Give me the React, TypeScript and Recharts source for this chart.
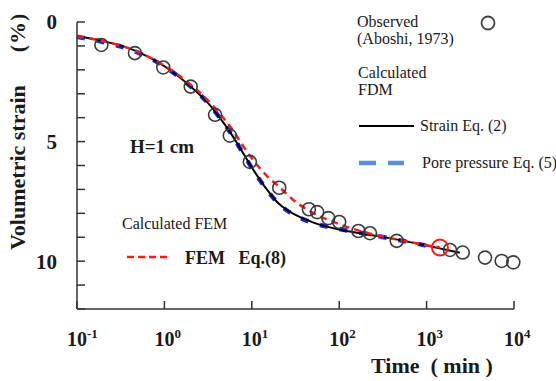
import React from 'react';
import { ComposedChart, Line, Scatter, XAxis, YAxis } from 'recharts';

// observed (Aboshi, 1973)
const obsTime = [0.19, 0.46, 0.97, 2.0, 3.8, 5.6, 9.5, 20.6, 45, 56, 75, 100, 166, 225, 455, 1850, 2590, 4660, 7230, 9820];
const obsStrain = [0.96, 1.3, 1.9, 2.7, 3.88, 4.75, 5.85, 6.93, 7.83, 7.95, 8.2, 8.36, 8.74, 8.83, 9.15, 9.53, 9.64, 9.85, 9.99, 10.05];

// FDM strain Eq. (2)
const strainTime = [0.1, 0.2, 0.5, 1, 2, 3, 4, 6, 8, 10, 15, 20, 25, 30, 50, 100, 200, 500, 1000, 2400];
const strainEq2 = [0.6, 0.8, 1.25, 1.85, 2.7, 3.3, 3.85, 4.75, 5.5, 6.08, 7.02, 7.57, 7.85, 8.02, 8.38, 8.68, 8.87, 9.12, 9.35, 9.65];

// FDM pore pressure Eq. (5)
const poreTime = [0.1, 0.2, 0.5, 1, 2, 3, 4, 6, 8, 10, 15, 20, 25, 30, 50, 100, 200, 500, 1100];
const poreEq5 = [0.62, 0.84, 1.28, 1.86, 2.7, 3.3, 3.85, 4.75, 5.52, 6.1, 7.03, 7.58, 7.87, 8.05, 8.4, 8.65, 8.85, 9.13, 9.38];

// FEM Eq. (8)
const femTime = [0.1, 0.2, 0.5, 1, 2, 3, 4, 6, 8, 10, 15, 20, 30, 50, 100, 200, 500, 1420];
const femEq8 = [0.6, 0.8, 1.25, 1.83, 2.62, 3.2, 3.7, 4.5, 5.2, 5.7, 6.45, 6.85, 7.45, 7.98, 8.45, 8.8, 9.12, 9.43];

const xTicks = [0.1, 1, 10, 100, 1000, 10000];
const yTicks = [0, 1, 2, 3, 4, 5, 6, 7, 8, 9, 10, 11, 12];
const yLabels = [0, 5, 10];

const zip = (ts: number[], vs: number[]) => ts.map((t, i) => ({ t, v: vs[i] }));

const observed = zip(obsTime, obsStrain);
const strain = zip(strainTime, strainEq2);
const pore = zip(poreTime, poreEq5);
const fem = zip(femTime, femEq8);
const femEnd = [fem[fem.length - 1]];

const SERIF = '"Liberation Serif", "Times New Roman", "Noto Sans CJK SC", serif';

function LogTick({ x, y, payload }: any) {
  const exp = Math.round(Math.log10(payload.value));
  return (
    <g fontFamily={SERIF} fontWeight="bold" fill="#1a1a1a">
      <text x={x} y={y + 37} textAnchor="middle" fontSize={20}>
        10
      </text>
      <text x={x + 10} y={y + 29} textAnchor="start" fontSize={13}>
        {exp}
      </text>
    </g>
  );
}

const openCircle = (props: any) => (
  <circle cx={props.cx} cy={props.cy} r={6.5} fill="none" stroke="#3a3a3a" strokeWidth={1.6} />
);
const redCircle = (props: any) => (
  <circle cx={props.cx} cy={props.cy} r={8} fill="none" stroke="#ff1a1a" strokeWidth={2} />
);

export default function App() {
  return (
    <div style={{ position: 'absolute', left: 0, top: 0, width: 556, height: 381, background: '#fff' }}>
      <ComposedChart width={556} height={381} margin={{ top: 22, right: 42, left: 0, bottom: 0 }}>
        <XAxis
          type="number"
          dataKey="t"
          scale="log"
          domain={[0.1, 10000]}
          ticks={xTicks}
          height={72}
          tickSize={-8}
          tickMargin={8}
          tick={<LogTick />}
          axisLine={{ stroke: '#333', strokeWidth: 1.5 }}
          tickLine={{ stroke: '#333', strokeWidth: 1.5 }}
        />
        <YAxis
          type="number"
          dataKey="v"
          domain={[0, 12]}
          reversed
          ticks={yTicks}
          interval={0}
          width={77}
          tickSize={-8}
          tickMargin={28}
          tickFormatter={(v: number) => (yLabels.includes(v) ? String(v) : '')}
          tick={{ fontSize: 21, fontWeight: 'bold', fontFamily: SERIF, fill: '#1a1a1a' }}
          axisLine={{ stroke: '#333', strokeWidth: 1.5 }}
          tickLine={{ stroke: '#333', strokeWidth: 1.5 }}
        />
        <Line
          data={pore}
          dataKey="v"
          type="monotone"
          stroke="#1030e8"
          strokeWidth={4.5}
          strokeDasharray="8 12"
          dot={false}
          activeDot={false}
          isAnimationActive={false}
        />
        <Line
          data={strain}
          dataKey="v"
          type="monotone"
          stroke="#000"
          strokeWidth={2}
          dot={false}
          activeDot={false}
          isAnimationActive={false}
        />
        <Line
          data={fem}
          dataKey="v"
          type="monotone"
          stroke="#ff1a1a"
          strokeWidth={2.5}
          strokeDasharray="7 5"
          dot={false}
          activeDot={false}
          isAnimationActive={false}
        />
        <Scatter data={observed} dataKey="v" shape={openCircle} isAnimationActive={false} />
        <Scatter data={femEnd} dataKey="v" shape={redCircle} isAnimationActive={false} />
      </ComposedChart>

      <svg
        width={556}
        height={381}
        style={{ position: 'absolute', left: 0, top: 0, pointerEvents: 'none' }}
        fontFamily={SERIF}
        fill="#1a1a1a"
      >
        <text
          x={0}
          y={0}
          transform="translate(25,250) rotate(-90)"
          textAnchor="start"
          fontSize={22}
          fontWeight="bold"
        >
          Volumetric strain
          <tspan dx={33}>(</tspan>
          <tspan dx={1}>%</tspan>
          <tspan dx={1}>)</tspan>
        </text>
        <text x={371} y={373} fontSize={22} fontWeight="bold" style={{ whiteSpace: 'pre' }}>
          {'Time  ( min )'}
        </text>

        <text x={357} y={27} fontSize={16}>Observed</text>
        <text x={357} y={44} fontSize={16}>(Aboshi, 1973)</text>
        <circle cx={488} cy={23} r={6.5} fill="none" stroke="#444" strokeWidth={1.8} />

        <text x={358} y={78} fontSize={16}>Calculated</text>
        <text x={358} y={95} fontSize={16}>FDM</text>

        <line x1={359} y1={126} x2={414} y2={126} stroke="#000" strokeWidth={2} />
        <text x={420} y={131} fontSize={16}>Strain Eq. (2)</text>

        <line x1={359} y1={163} x2={404} y2={163} stroke="#5a8ed6" strokeWidth={4.5} strokeDasharray="17 12" />
        <text x={422} y={168} fontSize={16}>Pore pressure Eq. (5)</text>

        <text x={130} y={153} fontSize={19} fontWeight="bold">H=1 cm</text>

        <text x={122} y={229} fontSize={16}>Calculated FEM</text>
        <line x1={127} y1={257} x2={167} y2={257} stroke="#ff1a1a" strokeWidth={2.5} strokeDasharray="7 4" />
        <text x={185} y={264} fontSize={18} fontWeight="bold" style={{ whiteSpace: 'pre' }}>
          {'FEM   Eq.(8)'}
        </text>
      </svg>
    </div>
  );
}
